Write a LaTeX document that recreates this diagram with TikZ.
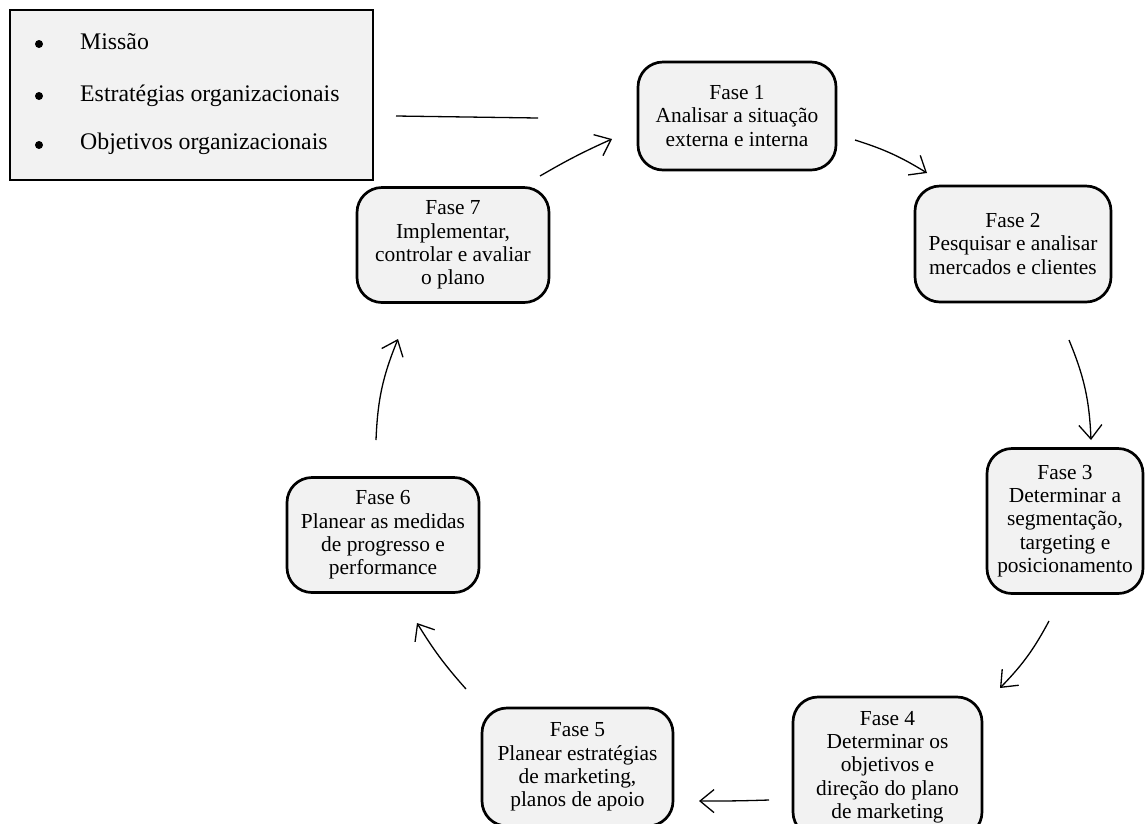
\documentclass[tikz,border=0pt]{standalone}
\usepackage{fontspec}
\setmainfont{Liberation Serif}
\usetikzlibrary{arrows.meta}
\definecolor{boxfill}{HTML}{F2F2F2}
\tikzset{
  phase/.style={draw=black, line width=2.7pt, fill=boxfill, rounded corners=25pt,
    align=center, inner sep=0pt, font=\fontsize{21.4}{23.3}\selectfont},
  flow/.style={line width=1.3pt, -{Straight Barb[length=14pt,width=23pt,line width=1.3pt]}},
  plain/.style={line width=1.3pt},
  itemtext/.style={anchor=west, inner sep=0pt, font=\fontsize{23.8}{26}\selectfont},
  bullet/.style={circle, fill=black, inner sep=0pt, minimum size=8pt}
}
\begin{document}
\begin{tikzpicture}[x=1pt,y=-1pt]
\useasboundingbox (0,0) rectangle (1145,823);
\clip (0,0) rectangle (1145,823);
\fill[white] (0,0) rectangle (1145,823);

% context box
\node[draw=black, line width=2pt, fill=boxfill, minimum width=363pt, minimum height=170pt,
  inner sep=0pt] (ctx) at (191.5,95) {};
\node[bullet] (b1) at (39,44) {};
\node[bullet] (b2) at (39,96) {};
\node[bullet] (b3) at (39,145) {};
\node[itemtext] (i1) at (80,42) {Missão};
\node[itemtext] (i2) at (80,96) {Estratégias organizacionais};
\node[itemtext] (i3) at (80,144) {Objetivos organizacionais};

% phases
\node[phase, minimum width=198pt, minimum height=108pt] (f1) at (737,116)
  {Fase 1\\Analisar a situação\\externa e interna};
\node[phase, minimum width=196pt, minimum height=116pt] (f2) at (1013,244)
  {Fase 2\\Pesquisar e analisar\\mercados e clientes};
\node[phase, minimum width=156pt, minimum height=145pt] (f3) at (1065,521)
  {Fase 3\\Determinar a\\segmentação,\\targeting e\\posicionamento};
\node[phase, minimum width=189pt, minimum height=140pt] (f4) at (887.5,767)
  {Fase 4\\Determinar os\\objetivos e\\direção do plano\\de marketing};
\node[phase, minimum width=191pt, minimum height=118pt] (f5) at (577.5,767)
  {Fase 5\\Planear estratégias\\de marketing,\\planos de apoio};
\node[phase, minimum width=192pt, minimum height=115pt] (f6) at (383,535)
  {Fase 6\\Planear as medidas\\de progresso e\\performance};
\node[phase, minimum width=192pt, minimum height=115pt] (f7) at (453,245)
  {Fase 7\\Implementar,\\controlar e avaliar\\o plano};

% connector end points
\coordinate (c0a) at (396,116);
\coordinate (c0b) at (538,118);
\coordinate (c7a) at (540,176);
\coordinate (c7b) at (612,139);
\coordinate (c1a) at (855,140);
\coordinate (c1b) at (927,173);
\coordinate (c2a) at (1069,340);
\coordinate (c2b) at (1091,440);
\coordinate (c3a) at (1049,621);
\coordinate (c3b) at (1000,688);
\coordinate (c4a) at (769,800);
\coordinate (c4b) at (699,801);
\coordinate (c5a) at (466,689);
\coordinate (c5b) at (417,623);
\coordinate (c6a) at (376,440);
\coordinate (c6b) at (398,339);

% connectors
\draw[plain] (c0a) -- (c0b);
\draw[flow] (c7a) to[bend left=3] (c7b);
\draw[flow] (c1a) to[bend left=7] (c1b);
\draw[flow] (c2a) to[bend left=10] (c2b);
\draw[flow] (c3a) to[bend left=8] (c3b);
\draw[flow] (c4a) to[bend left=1] (c4b);
\draw[flow] (c5a) to[bend left=5] (c5b);
\draw[flow] (c6a) to[bend left=10] (c6b);
\end{tikzpicture}
\end{document}
